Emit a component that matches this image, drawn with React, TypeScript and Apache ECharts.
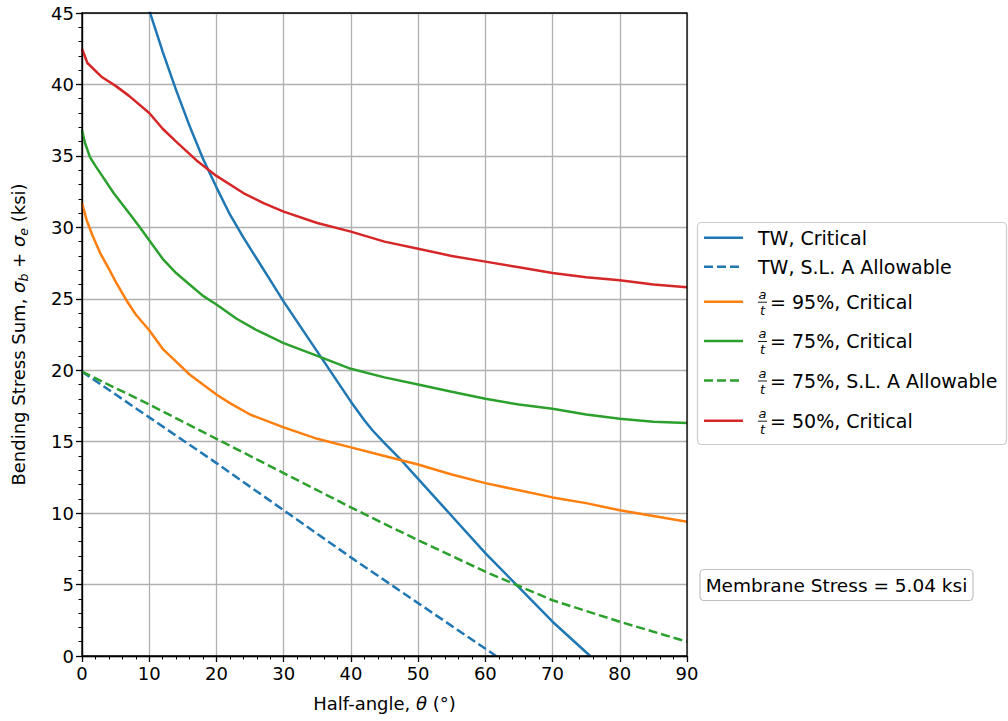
import React, { useEffect, useRef } from "react";
import * as echarts from "echarts";

// ---- Data ----
const twCritTheta = [10, 12, 14, 16, 18, 20, 22, 24, 26, 28, 30, 32, 34, 36, 38, 40, 42, 43.2, 45, 47.5, 50, 55, 60, 65, 70, 75.6];
const twCritStress = [45.2, 42.3, 39.6, 37.1, 34.8, 32.8, 30.9, 29.3, 27.8, 26.3, 24.8, 23.4, 22.0, 20.6, 19.2, 17.8, 16.5, 15.8, 14.9, 13.7, 12.4, 9.8, 7.2, 4.8, 2.4, 0];

const twAllowTheta = [0, 10, 20, 30, 40, 50, 61.6];
const twAllowStress = [19.9, 16.7, 13.5, 10.2, 6.9, 3.7, 0];

const a95Theta = [0, 0.7, 1.5, 2.7, 4, 5, 6.6, 8, 10, 12, 14, 16, 18, 20, 22, 25, 30, 35, 40, 45, 50, 55, 60, 65, 70, 75, 80, 85, 90];
const a95Stress = [31.7, 30.5, 29.5, 28.2, 27.1, 26.2, 24.9, 23.9, 22.8, 21.5, 20.6, 19.7, 19.0, 18.3, 17.7, 16.9, 16.0, 15.2, 14.6, 14.0, 13.4, 12.7, 12.1, 11.6, 11.1, 10.7, 10.2, 9.8, 9.4];

const a75Theta = [0, 0.45, 1.2, 2, 3, 4.7, 7, 8.6, 10, 12, 14, 16, 18, 20, 23, 26, 30, 35, 40, 45, 50, 55, 60, 65, 70, 75, 80, 85, 90];
const a75Stress = [36.8, 35.9, 34.9, 34.3, 33.6, 32.4, 31.0, 30.0, 29.1, 27.8, 26.8, 26.0, 25.2, 24.6, 23.6, 22.8, 21.9, 21.0, 20.1, 19.5, 19.0, 18.5, 18.0, 17.6, 17.3, 16.9, 16.6, 16.4, 16.3];

const a75AllowTheta = [0, 10, 20, 30, 40, 50, 60, 70, 80, 90];
const a75AllowStress = [19.9, 17.6, 15.2, 12.8, 10.4, 8.1, 5.9, 3.9, 2.4, 1.0];

const a50Theta = [0, 0.8, 3, 5, 7, 10, 12, 14, 17, 20, 24, 27, 30, 35, 40, 45, 50, 55, 60, 65, 70, 75, 80, 85, 90];
const a50Stress = [42.5, 41.5, 40.5, 39.9, 39.2, 38.0, 36.9, 36.0, 34.7, 33.6, 32.4, 31.7, 31.1, 30.3, 29.7, 29.0, 28.5, 28.0, 27.6, 27.2, 26.8, 26.5, 26.3, 26.0, 25.8];

const seriesNames = [
  "TW, Critical",
  "TW, S.L. A Allowable",
  "a/t = 95%, Critical",
  "a/t = 75%, Critical",
  "a/t = 75%, S.L. A Allowable",
  "a/t = 50%, Critical",
];
const legendTexts = ["TW, Critical", "TW, S.L. A Allowable", "= 95%, Critical", "= 75%, Critical", "= 75%, S.L. A Allowable", "= 50%, Critical"];
const legendHasFraction = [false, false, true, true, true, true];
const seriesColors = ["#1f77b4", "#1f77b4", "#ff7f0e", "#2ca02c", "#2ca02c", "#d62728"];
const seriesDashed = [false, true, false, false, true, false];
const seriesTheta = [twCritTheta, twAllowTheta, a95Theta, a75Theta, a75AllowTheta, a50Theta];
const seriesStress = [twCritStress, twAllowStress, a95Stress, a75Stress, a75AllowStress, a50Stress];

const xTicks = [0, 10, 20, 30, 40, 50, 60, 70, 80, 90];
const yTicks = [0, 5, 10, 15, 20, 25, 30, 35, 40, 45];
const membraneText = "Membrane Stress = 5.04 ksi";

const FONT = "DejaVu Sans";

export default function App() {
  const ref = useRef<HTMLDivElement>(null);

  useEffect(() => {
    document.body.style.margin = "0";
    if (!ref.current) return;
    const chart = echarts.init(ref.current, undefined, { renderer: "svg" });

    const lineW = 2.5;
    const dash = [9, 4];

    const series = seriesNames.map((name, i) => ({
      name,
      type: "line",
      data: seriesTheta[i].map((t, j) => [t, seriesStress[i][j]]),
      showSymbol: false,
      symbol: "none",
      clip: true,
      lineStyle: {
        color: seriesColors[i],
        width: lineW,
        type: seriesDashed[i] ? dash : "solid",
      },
      itemStyle: { color: seriesColors[i] },
      z: 3,
    }));

    // custom legend via graphic
    const legendLeft = 697.5;
    const legendTop = 222.5;
    const rowYs = [237.7, 266.7, 301.7, 341, 380.5, 420.7];
    const legendEls: any[] = [
      {
        type: "rect",
        shape: { x: legendLeft, y: legendTop, width: 309, height: 222, r: 4 },
        style: { fill: "rgba(255,255,255,0.8)", stroke: "#cccccc", lineWidth: 1.2 },
        z: 10,
      },
    ];
    legendTexts.forEach((txt, i) => {
      const y = rowYs[i];
      legendEls.push({
        type: "line",
        shape: { x1: 704, y1: y, x2: 743, y2: y },
        style: { stroke: seriesColors[i], lineWidth: lineW, lineDash: seriesDashed[i] ? dash : null },
        z: 11,
      });
      let tx = 758;
      if (legendHasFraction[i]) {
        legendEls.push({
          type: "text",
          style: { text: "a", x: 762.5, y: y - 7.5, align: "center", verticalAlign: "middle", fontSize: 13, fontStyle: "italic", fontFamily: FONT, fill: "#000" },
          z: 11,
        });
        legendEls.push({
          type: "line",
          shape: { x1: 758, y1: y + 0.5, x2: 767, y2: y + 0.5 },
          style: { stroke: "#000", lineWidth: 0.9 },
          z: 11,
        });
        legendEls.push({
          type: "text",
          style: { text: "t", x: 762.5, y: y + 8.5, align: "center", verticalAlign: "middle", fontSize: 13, fontStyle: "italic", fontFamily: FONT, fill: "#000" },
          z: 11,
        });
        tx = 770;
      }
      legendEls.push({
        type: "text",
        style: { text: txt, x: tx, y: y, align: "left", verticalAlign: "middle", fontSize: 19, fontFamily: FONT, fill: "#000" },
        z: 11,
      });
    });

    const membraneEls = [
      {
        type: "rect",
        shape: { x: 700, y: 569.5, width: 273, height: 31, r: 4 },
        style: { fill: "#ffffff", stroke: "#c0c0c0", lineWidth: 1.2 },
        z: 10,
      },
      {
        type: "text",
        style: { text: membraneText, x: 836.5, y: 585, align: "center", verticalAlign: "middle", fontSize: 18.5, fontFamily: FONT, fill: "#000" },
        z: 11,
      },
    ];

    const option: any = {
      animation: false,
      backgroundColor: "#ffffff",
      textStyle: { fontFamily: FONT },
      grid: {
        left: 82,
        right: 1008 - 687,
        top: 13,
        bottom: 721 - 656,
        show: true,
        borderColor: "#000",
        borderWidth: 1.3,
        backgroundColor: "transparent",
        containLabel: false,
        z: 4,
      },
      xAxis: {
        type: "value",
        min: xTicks[0],
        max: xTicks[xTicks.length - 1],
        interval: xTicks[1] - xTicks[0],
        name: "{n|Half-angle, }{i|θ}{n| (°)}",
        nameLocation: "middle",
        nameGap: 38,
        nameTextStyle: {
          rich: {
            n: { fontSize: 18, fontFamily: FONT, color: "#000" },
            i: { fontSize: 18, fontFamily: FONT, fontStyle: "italic", color: "#000" },
          },
        },
        axisLine: { show: true, onZero: false, lineStyle: { color: "#000", width: 1.3 } },
        axisTick: { show: true, inside: false, length: 6, lineStyle: { color: "#000", width: 1.3 } },
        minorTick: { show: true, splitNumber: 5, length: 3.5, lineStyle: { color: "#000", width: 1 } },
        axisLabel: { fontSize: 18, color: "#000", fontFamily: FONT, margin: 8 },
        splitLine: { show: true, lineStyle: { color: "#b0b0b0", width: 1.3 } },
        minorSplitLine: { show: false },
      },
      yAxis: {
        type: "value",
        min: yTicks[0],
        max: yTicks[yTicks.length - 1],
        interval: yTicks[1] - yTicks[0],
        name: "{n|Bending Stress Sum, }{i|σ}{s|b}{n| + }{i|σ}{s|e}{n| (ksi)}",
        nameLocation: "middle",
        nameRotate: 90,
        nameGap: 52,
        nameTextStyle: {
          rich: {
            n: { fontSize: 18, fontFamily: FONT, color: "#000", lineHeight: 24 },
            i: { fontSize: 18, fontFamily: FONT, fontStyle: "italic", color: "#000", lineHeight: 24 },
            s: { fontSize: 12.5, fontFamily: FONT, fontStyle: "italic", color: "#000", verticalAlign: "bottom", lineHeight: 24 },
          },
        },
        axisLine: { show: true, onZero: false, lineStyle: { color: "#000", width: 1.3 } },
        axisTick: { show: true, inside: false, length: 6, lineStyle: { color: "#000", width: 1.3 } },
        minorTick: { show: true, splitNumber: 5, length: 3.5, lineStyle: { color: "#000", width: 1 } },
        axisLabel: { fontSize: 18, color: "#000", fontFamily: FONT, margin: 8 },
        splitLine: { show: true, lineStyle: { color: "#b0b0b0", width: 1.3 } },
      },
      legend: { show: false },
      tooltip: { show: false },
      series,
      graphic: [...legendEls, ...membraneEls],
    };

    chart.setOption(option);
    return () => chart.dispose();
  }, []);

  return <div ref={ref} style={{ width: 1008, height: 721, background: "#fff" }} />;
}
